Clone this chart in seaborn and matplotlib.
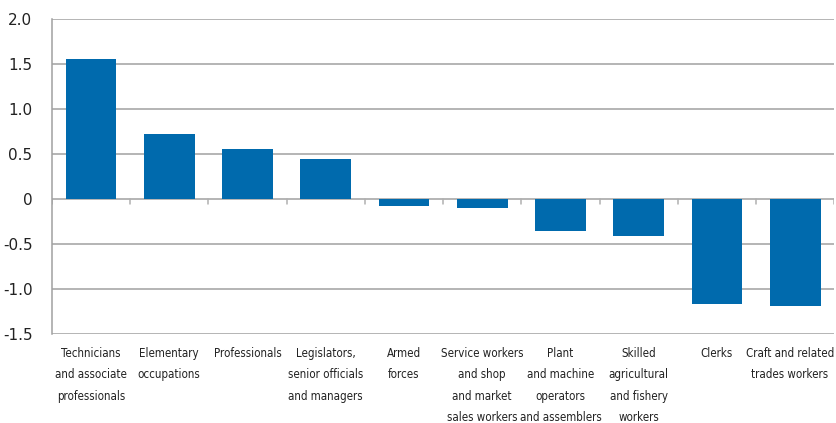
import numpy as np
import pandas as pd
import seaborn as sns
import matplotlib.pyplot as plt
import matplotlib.transforms as mtransforms

# Values
occupations = [
    "Technicians\nand associate\nprofessionals",
    "Elementary\noccupations",
    "Professionals",
    "Legislators,\nsenior officials\nand managers",
    "Armed\nforces",
    "Service workers\nand shop\nand market\nsales workers",
    "Plant\nand machine\noperators\nand assemblers",
    "Skilled\nagricultural\nand fishery\nworkers",
    "Clerks",
    "Craft and related\ntrades workers",
]
change = [1.56, 0.72, 0.56, 0.44, -0.08, -0.10, -0.35, -0.41, -1.16, -1.19]
y_ticks = [-1.5, -1.0, -0.5, 0, 0.5, 1.0, 1.5, 2.0]
y_labels = ["-1.5", "-1.0", "-0.5", "0", "0.5", "1.0", "1.5", "2.0"]

df = pd.DataFrame({"occupation": occupations, "change": change})

sns.set_style("white")
plt.rcParams['font.family'] = ['DejaVu Sans']

fig = plt.figure(figsize=(8.36, 4.23), dpi=100)
ax = fig.add_axes([0.062, 0.21, 0.936, 0.745])

for y in y_ticks:
    ax.axhline(y, color="#a0a0a0", lw=1.1, zorder=0)

sns.barplot(data=df, x="occupation", y="change", color="#006aad",
            saturation=1, width=0.65, ax=ax, zorder=2, edgecolor="none")

# small separators on the zero line between categories
n = len(occupations)
for b in np.arange(-0.5, n, 1.0):
    ax.plot([b, b], [0, -0.05], color="#b0b0b0", lw=1.1, zorder=1)

ax.set_xlim(-0.5, n - 0.5)
ax.set_ylim(-1.5, 2.0)
ax.set_yticks(y_ticks)
ax.set_yticklabels(y_labels, fontsize=11, color="#222222")
ax.set_xlabel("")
ax.set_ylabel("")
ax.tick_params(axis="x", length=0, pad=9, colors="#222222")
ax.tick_params(axis="y", length=0, pad=14)
for lbl in ax.get_xticklabels():
    lbl.set_verticalalignment("top")
    lbl.set_linespacing(1.85)
    lbl.set_fontstretch("condensed")
    lbl.set_fontsize(8.3)

# nudge the last label so it stays inside the figure
last = ax.get_xticklabels()[-1]
last.set_transform(last.get_transform() +
                   mtransforms.ScaledTranslation(-4 / 72, 0, fig.dpi_scale_trans))

for s in ["top", "right", "bottom"]:
    ax.spines[s].set_visible(False)
ax.spines["left"].set_color("#a0a0a0")
ax.spines["left"].set_linewidth(1.1)

fig.savefig("out.png", dpi=100)
